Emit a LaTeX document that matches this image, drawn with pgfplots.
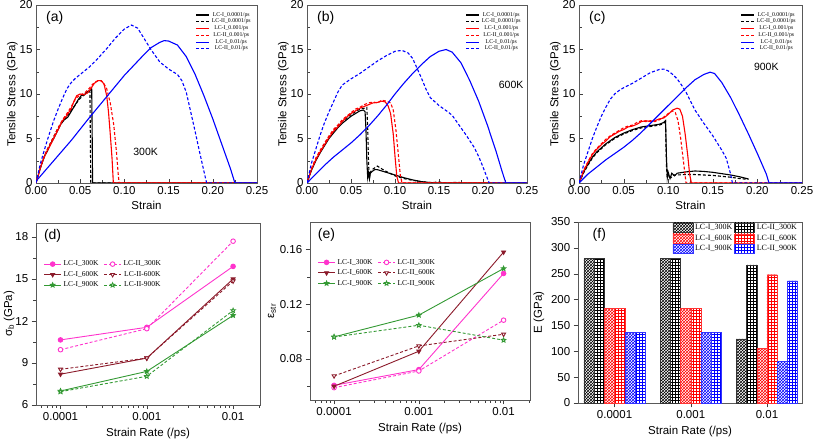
\documentclass[border=0pt]{standalone}
\usepackage{pgfplots}
\pgfplotsset{compat=1.18}
\usepackage{fontspec}
\setmainfont{Liberation Sans}
\newfontfamily\tms{Liberation Serif}
\usetikzlibrary{patterns}

\definecolor{mag}{RGB}{255,51,204}
\definecolor{mar}{RGB}{139,26,42}
\definecolor{grn}{RGB}{51,153,51}

% five-pointed star, filled with the fill colour
\pgfdeclareplotmark{pstar}{%
  \pgfpathmoveto{\pgfpointpolar{90}{\pgfplotmarksize}}%
  \pgfpathlineto{\pgfpointpolar{126}{0.45\pgfplotmarksize}}%
  \pgfpathlineto{\pgfpointpolar{162}{\pgfplotmarksize}}%
  \pgfpathlineto{\pgfpointpolar{198}{0.45\pgfplotmarksize}}%
  \pgfpathlineto{\pgfpointpolar{234}{\pgfplotmarksize}}%
  \pgfpathlineto{\pgfpointpolar{270}{0.45\pgfplotmarksize}}%
  \pgfpathlineto{\pgfpointpolar{306}{\pgfplotmarksize}}%
  \pgfpathlineto{\pgfpointpolar{342}{0.45\pgfplotmarksize}}%
  \pgfpathlineto{\pgfpointpolar{18}{\pgfplotmarksize}}%
  \pgfpathlineto{\pgfpointpolar{54}{0.45\pgfplotmarksize}}%
  \pgfpathclose
  \pgfusepathqfillstroke}

\tikzset{plab/.style={anchor=north west, font=\fontsize{14}{16}\selectfont},
  dsh/.style={dash pattern=on 3pt off 2pt}}

\pgfplotsset{
  base/.style={scale only axis, anchor=south west,
    axis line style={black!65}, tick style={black!75},
    tick label style={font=\fontsize{11.5}{13}\selectfont},
    label style={font=\fontsize{11.5}{13}\selectfont},
    /pgf/number format/assume math mode=true},
  ss/.style={base, height=178pt,
    xmin=0, xmax=0.25, ymin=0, ymax=20,
    xtick={0,0.05,0.1,0.15,0.2,0.25}, ytick={0,5,10,15,20},
    minor tick num=1, tick align=inside, tickpos=left,
    xticklabel style={/pgf/number format/.cd, fixed, fixed zerofill, precision=2},
    xlabel={Strain}, ylabel={Tensile Stress (GPa)}, ylabel shift=-5pt,
    no markers, every axis plot/.append style={line width=1.1pt},
    legend style={at={(0.995,0.975)}, anchor=north east, draw=none, fill=none,
      font=\tms\fontsize{5.8}{6.5}\selectfont, nodes={inner ysep=0.7pt}},
    legend image code/.code={\draw[##1] (0pt,0pt) -- (13pt,0pt);},
    legend entries={LC-I\_0.0001/ps, LC-II\_0.0001/ps, LC-I\_0.001/ps,
      LC-II\_0.001/ps, LC-I\_0.01/ps, LC-II\_0.01/ps}},
  ratax/.style={base, xmin=5.2e-5, xmax=2.05e-2,
    xtick={1e-4,1e-3,1e-2}, xticklabels={0.0001,0.001,0.01},
    minor xtick={6e-5,7e-5,8e-5,9e-5,2e-4,3e-4,4e-4,5e-4,6e-4,7e-4,8e-4,9e-4,
      2e-3,3e-3,4e-3,5e-3,6e-3,7e-3,8e-3,9e-3,2e-2},
    tick align=outside, tickpos=left, xlabel={Strain Rate (/ps)},
    legend columns=2,
    legend style={at={(0.02,0.815)}, anchor=north west, draw=none, fill=none,
      font=\tms\fontsize{7.5}{9}\selectfont,
      /tikz/every even column/.append style={column sep=3pt}},
    every axis plot/.append style={line width=0.9pt, mark size=2.3pt}},
}

\begin{document}
\begin{tikzpicture}
\path[use as bounding box] (0pt,0pt) rectangle (813pt,439pt);

% ---------------- (a) 300K
\begin{axis}[ss, at={(36pt,256pt)}, width=221pt]
\addplot[black] coordinates {(0,0)(0.003,1.0)(0.006,2.0)(0.01,3.1)(0.013,3.6)(0.016,4.3)(0.02,5.0)(0.024,5.8)(0.028,6.6)(0.032,7.1)(0.036,7.4)(0.039,7.9)(0.042,8.4)(0.045,8.9)(0.048,9.4)(0.051,9.8)(0.054,9.9)(0.057,10.1)(0.06,10.3)(0.063,10.6)(0.0635,6)(0.064,0)(0.25,0)};
\addplot[black,dsh] coordinates {(0,0)(0.004,1.5)(0.008,2.6)(0.012,3.6)(0.016,4.4)(0.02,5.2)(0.025,6.2)(0.03,6.9)(0.035,7.5)(0.04,8.2)(0.044,8.7)(0.048,9.3)(0.052,9.7)(0.056,10.0)(0.06,10.4)(0.061,10.5)(0.0615,5)(0.062,0)(0.25,0)};
\addplot[red] coordinates {(0,0)(0.004,1.4)(0.008,2.6)(0.012,3.5)(0.016,4.2)(0.02,5.0)(0.025,6.0)(0.03,7.0)(0.035,7.6)(0.04,8.4)(0.043,9.2)(0.046,9.8)(0.05,10.0)(0.054,9.9)(0.058,10.1)(0.062,10.6)(0.066,11.2)(0.07,11.5)(0.074,11.5)(0.077,11.1)(0.08,9.8)(0.082,8.0)(0.084,5.5)(0.086,2.8)(0.0875,0)(0.25,0)};
\addplot[red,dsh] coordinates {(0,0)(0.004,1.5)(0.008,2.7)(0.012,3.6)(0.016,4.4)(0.02,5.2)(0.025,6.2)(0.03,7.1)(0.035,7.8)(0.04,8.6)(0.045,9.5)(0.05,9.9)(0.055,10.1)(0.06,10.6)(0.064,11.1)(0.068,11.4)(0.072,11.55)(0.076,11.3)(0.08,10.6)(0.084,9.0)(0.088,6.5)(0.091,3.5)(0.093,1.0)(0.094,0)(0.25,0)};
\addplot[blue] coordinates {(0,0.2)(0.02,2.5)(0.04,4.8)(0.06,7.3)(0.08,9.7)(0.1,12.1)(0.12,14.2)(0.13,15.2)(0.14,15.8)(0.145,16.0)(0.15,15.95)(0.16,15.5)(0.17,14.2)(0.18,12.2)(0.19,9.8)(0.2,7.2)(0.21,4.4)(0.22,1.6)(0.225,0)(0.25,0)};
\addplot[blue,dsh] coordinates {(0,0)(0.005,2.2)(0.01,3.9)(0.015,5.5)(0.02,7.0)(0.025,8.3)(0.03,9.5)(0.035,10.6)(0.04,11.3)(0.045,11.8)(0.05,12.2)(0.06,13.0)(0.07,14.0)(0.08,15.1)(0.09,16.3)(0.1,17.3)(0.108,17.75)(0.115,17.4)(0.12,16.6)(0.13,15.0)(0.14,13.6)(0.15,12.8)(0.16,12.2)(0.165,11.5)(0.17,10.2)(0.175,8.0)(0.18,5.8)(0.185,3.5)(0.19,1.3)(0.193,0)(0.25,0)};
\node[plab] at (rel axis cs:0.03,0.985) {(a)};
\node[font=\fontsize{10.5}{12}\selectfont] at (axis cs:0.124,3.5) {300K};
\end{axis}

% ---------------- (b) 600K
\begin{axis}[ss, at={(307pt,256pt)}, width=220pt]
\addplot[black] coordinates {(0,0)(0.005,1.4)(0.01,2.5)(0.015,3.4)(0.02,4.2)(0.025,5.0)(0.03,5.6)(0.035,6.2)(0.04,6.7)(0.045,7.1)(0.05,7.5)(0.055,7.8)(0.06,8.1)(0.064,8.2)(0.066,8.0)(0.067,6)(0.068,2.5)(0.069,0.6)(0.07,1.2)(0.071,0.5)(0.072,1.1)(0.074,1.3)(0.077,1.5)(0.08,1.5)(0.085,1.35)(0.09,1.2)(0.1,0.9)(0.11,0.6)(0.12,0.35)(0.13,0.15)(0.14,0.05)(0.15,0)(0.25,0)};
\addplot[black,dsh] coordinates {(0,0)(0.005,1.5)(0.01,2.6)(0.015,3.5)(0.02,4.4)(0.025,5.1)(0.03,5.8)(0.035,6.4)(0.04,6.9)(0.045,7.3)(0.05,7.7)(0.055,8.0)(0.06,8.3)(0.065,8.4)(0.068,8.5)(0.069,6)(0.07,2)(0.071,0.6)(0.072,1.2)(0.074,1.5)(0.077,1.7)(0.08,1.9)(0.083,1.7)(0.09,1.3)(0.1,0.8)(0.11,0.5)(0.12,0.3)(0.13,0.15)(0.14,0.05)(0.15,0.1)(0.16,0)(0.17,0.08)(0.18,0)(0.25,0)};
\addplot[red] coordinates {(0,0)(0.005,1.5)(0.01,2.6)(0.015,3.5)(0.02,4.3)(0.025,5.1)(0.03,5.8)(0.035,6.3)(0.04,6.9)(0.045,7.4)(0.05,7.8)(0.055,8.1)(0.06,8.4)(0.065,8.6)(0.07,8.8)(0.075,9.0)(0.08,9.05)(0.085,9.2)(0.089,9.1)(0.092,8.7)(0.095,7.8)(0.098,5.5)(0.1,3.0)(0.102,0.8)(0.104,0)(0.25,0)};
\addplot[red,dsh] coordinates {(0,0)(0.005,1.6)(0.01,2.8)(0.015,3.7)(0.02,4.5)(0.025,5.3)(0.03,6.0)(0.035,6.5)(0.04,7.1)(0.045,7.5)(0.05,7.9)(0.055,8.3)(0.06,8.5)(0.065,8.8)(0.07,9.0)(0.075,9.1)(0.08,9.0)(0.085,9.3)(0.09,9.2)(0.095,9.0)(0.098,8.2)(0.101,6.0)(0.104,3.0)(0.106,0.9)(0.108,0)(0.25,0)};
\addplot[blue] coordinates {(0,0)(0.01,1.0)(0.02,2.0)(0.03,2.9)(0.04,3.7)(0.05,4.5)(0.06,5.4)(0.07,6.4)(0.08,7.5)(0.09,8.7)(0.1,10.0)(0.11,11.2)(0.12,12.3)(0.13,13.3)(0.14,14.2)(0.15,14.8)(0.158,15.0)(0.165,14.7)(0.175,13.5)(0.185,11.5)(0.195,9.2)(0.205,6.5)(0.215,3.5)(0.222,1.2)(0.226,0)(0.25,0)};
\addplot[blue,dsh] coordinates {(0,0)(0.005,2.2)(0.01,3.8)(0.015,5.4)(0.02,6.8)(0.025,8.0)(0.03,9.1)(0.035,10.2)(0.04,11.0)(0.05,11.7)(0.06,12.3)(0.07,13.0)(0.08,13.7)(0.09,14.3)(0.1,14.8)(0.108,14.9)(0.115,14.6)(0.12,14.0)(0.125,12.9)(0.13,11.8)(0.135,10.6)(0.14,9.6)(0.15,8.7)(0.16,8.0)(0.165,7.6)(0.17,6.9)(0.18,5.5)(0.19,4.0)(0.195,3.0)(0.2,1.8)(0.205,0.5)(0.207,0)(0.25,0)};
\node[plab] at (rel axis cs:0.03,0.985) {(b)};
\node[font=\fontsize{10.5}{12}\selectfont] at (axis cs:0.232,11.0) {600K};
\end{axis}

% ---------------- (c) 900K
\begin{axis}[ss, at={(579pt,256pt)}, width=223pt]
\addplot[black] coordinates {(0,0)(0.005,1.2)(0.01,2.1)(0.015,2.9)(0.02,3.5)(0.03,4.4)(0.04,5.1)(0.05,5.6)(0.06,6.0)(0.07,6.3)(0.08,6.45)(0.09,6.6)(0.095,6.8)(0.097,7.0)(0.098,3)(0.099,0.6)(0.1,1.2)(0.102,0.5)(0.104,1.1)(0.107,0.8)(0.11,1.1)(0.12,1.25)(0.13,1.35)(0.14,1.3)(0.15,1.2)(0.16,1.05)(0.17,0.9)(0.18,0.7)(0.19,0.45)};
\addplot[black,dsh] coordinates {(0,0)(0.005,1.1)(0.01,2.0)(0.015,2.8)(0.02,3.4)(0.03,4.3)(0.04,5.0)(0.05,5.5)(0.06,5.9)(0.07,6.2)(0.08,6.35)(0.09,6.5)(0.095,6.7)(0.097,6.9)(0.098,2)(0.099,0.5)(0.1,0.9)(0.103,0.6)(0.106,0.9)(0.11,0.9)(0.12,0.95)(0.13,0.95)(0.14,0.9)(0.15,0.85)(0.16,0.75)(0.17,0.65)(0.18,0.5)(0.19,0.4)};
\addplot[red] coordinates {(0,0)(0.005,1.3)(0.01,2.3)(0.015,3.2)(0.02,3.8)(0.025,4.3)(0.03,4.7)(0.035,5.2)(0.04,5.5)(0.045,5.8)(0.05,6.0)(0.055,6.3)(0.06,6.4)(0.065,6.6)(0.07,6.9)(0.075,7.0)(0.08,6.9)(0.085,7.0)(0.09,7.2)(0.095,7.3)(0.1,7.7)(0.105,8.2)(0.11,8.4)(0.113,8.3)(0.116,7.5)(0.119,5.5)(0.122,3)(0.124,1)(0.126,0)(0.25,0)};
\addplot[red,dsh] coordinates {(0,0)(0.005,1.4)(0.01,2.4)(0.015,3.3)(0.02,3.9)(0.025,4.4)(0.03,4.9)(0.035,5.3)(0.04,5.6)(0.045,5.9)(0.05,6.2)(0.055,6.4)(0.06,6.5)(0.065,6.8)(0.07,7.0)(0.075,6.9)(0.08,7.0)(0.085,6.9)(0.09,7.1)(0.095,7.4)(0.1,7.8)(0.105,8.1)(0.108,7.9)(0.111,7.0)(0.114,5.0)(0.117,2.5)(0.119,0.8)(0.12,0)(0.25,0)};
\addplot[blue] coordinates {(0,0)(0.01,1.0)(0.02,1.8)(0.03,2.6)(0.04,3.3)(0.05,4.0)(0.06,4.8)(0.07,5.7)(0.08,6.7)(0.09,7.7)(0.1,8.7)(0.11,9.7)(0.12,10.7)(0.13,11.6)(0.14,12.2)(0.147,12.45)(0.152,12.3)(0.16,11.3)(0.17,9.6)(0.18,7.6)(0.19,5.5)(0.2,3.3)(0.21,1.0)(0.213,0)(0.25,0)};
\addplot[blue,dsh] coordinates {(0,0)(0.005,2.0)(0.01,3.5)(0.015,5.0)(0.02,6.3)(0.025,7.5)(0.03,8.5)(0.035,9.4)(0.04,10.0)(0.045,10.4)(0.05,10.7)(0.06,11.2)(0.07,11.8)(0.08,12.4)(0.09,12.75)(0.095,12.8)(0.1,12.6)(0.105,12.2)(0.11,11.7)(0.115,11.0)(0.12,10.2)(0.125,9.2)(0.13,8.2)(0.14,6.7)(0.15,5.3)(0.16,3.7)(0.165,2.8)(0.17,1.0)(0.172,0)(0.25,0)};
\node[plab] at (rel axis cs:0.03,0.985) {(c)};
\node[font=\fontsize{10.5}{12}\selectfont] at (axis cs:0.21,13.05) {900K};
\end{axis}

% ---------------- (d) breaking stress
\begin{axis}[xmode=log, ratax, at={(36pt,34pt)}, width=224pt, height=182pt,
  ymin=6, ymax=19, ytick={6,9,12,15,18}, minor ytick={7.5,10.5,13.5,16.5},
  ylabel={σ\textsubscript{b} (GPa)}, ylabel shift=-6pt]
\addplot[mag, mark=*, mark options={solid}] coordinates {(1e-4,10.65)(1e-3,11.55)(1e-2,15.9)};
\addlegendentry{LC-I\_300K}
\addplot[mag, dsh, mark=*, mark options={solid, fill=white}] coordinates {(1e-4,9.95)(1e-3,11.45)(1e-2,17.7)};
\addlegendentry{LC-II\_300K}
\addplot[mar, mark=triangle*, mark options={solid, rotate=180}] coordinates {(1e-4,8.2)(1e-3,9.35)(1e-2,15.0)};
\addlegendentry{LC-I\_600K}
\addplot[mar, dsh, mark=triangle*, mark options={solid, rotate=180, fill=white}] coordinates {(1e-4,8.55)(1e-3,9.35)(1e-2,14.85)};
\addlegendentry{LC-II-600K}
\addplot[grn, mark=pstar, mark options={solid}] coordinates {(1e-4,7.0)(1e-3,8.4)(1e-2,12.4)};
\addlegendentry{LC-I\_900K}
\addplot[grn, dsh, mark=pstar, mark options={solid, fill=white}] coordinates {(1e-4,6.95)(1e-3,8.05)(1e-2,12.75)};
\addlegendentry{LC-II-900K}
\node[plab] at (rel axis cs:0.02,0.985) {(d)};
\end{axis}

% ---------------- (e) failure strain
\begin{axis}[xmode=log, ratax, at={(310pt,39pt)}, width=220pt, height=178pt,
  ymin=0.05, ymax=0.18, ytick={0.08,0.12,0.16}, minor ytick={0.06,0.10,0.14},
  yticklabel style={/pgf/number format/.cd, fixed, fixed zerofill, precision=2},
  ylabel={ε\textsubscript{str}}, ylabel shift=-3pt]
\addplot[mag, mark=*, mark options={solid}] coordinates {(1e-4,0.0607)(1e-3,0.0722)(1e-2,0.1424)};
\addlegendentry{LC-I\_300K}
\addplot[mag, dsh, mark=*, mark options={solid, fill=white}] coordinates {(1e-4,0.059)(1e-3,0.0712)(1e-2,0.1083)};
\addlegendentry{LC-II\_300K}
\addplot[mar, mark=triangle*, mark options={solid, rotate=180}] coordinates {(1e-4,0.060)(1e-3,0.0856)(1e-2,0.158)};
\addlegendentry{LC-I\_600K}
\addplot[mar, dsh, mark=triangle*, mark options={solid, rotate=180, fill=white}] coordinates {(1e-4,0.0676)(1e-3,0.0895)(1e-2,0.098)};
\addlegendentry{LC-II\_600K}
\addplot[grn, mark=pstar, mark options={solid}] coordinates {(1e-4,0.0961)(1e-3,0.112)(1e-2,0.146)};
\addlegendentry{LC-I\_900K}
\addplot[grn, dsh, mark=pstar, mark options={solid, fill=white}] coordinates {(1e-4,0.096)(1e-3,0.1046)(1e-2,0.0937)};
\addlegendentry{LC-II\_900K}
\node[plab] at (rel axis cs:0.02,0.985) {(e)};
\end{axis}

% ---------------- (f) Young's modulus
\begin{axis}[base, at={(578pt,36pt)}, width=224pt, height=181pt,
  ybar=0pt, bar width=10.2pt,
  xmin=-0.48, xmax=2.46, ymin=0, ymax=350,
  xtick={0,1,2}, xticklabels={0.0001,0.001,0.01},
  ytick={0,50,100,150,200,250,300,350},
  tick align=outside, tickpos=left,
  xlabel={Strain Rate (/ps)}, ylabel={E (GPa)},
  legend columns=2,
  legend style={at={(1,1.012)}, anchor=north east, draw=none, fill=none,
    font=\tms\fontsize{8}{9.5}\selectfont},
  legend image code/.code={\draw[#1] (0pt,-4.5pt) rectangle (20pt,4.5pt);}]
\addplot[draw=black!80, pattern=crosshatch, pattern color=black] coordinates {(0,280)(1,280)(2,124)};
\addlegendentry{LC-I\_300K}
\addplot[draw=black!80, pattern=grid, pattern color=black] coordinates {(0,280)(1,280)(2,267)};
\addlegendentry{LC-II\_300K}
\addplot[draw=red!80, pattern=crosshatch, pattern color=red] coordinates {(0,183)(1,183)(2,106)};
\addlegendentry{LC-I\_600K}
\addplot[draw=red!80, pattern=grid, pattern color=red] coordinates {(0,183)(1,183)(2,248)};
\addlegendentry{LC-II\_600K}
\addplot[draw=blue!80, pattern=crosshatch, pattern color=blue] coordinates {(0,136)(1,136)(2,81)};
\addlegendentry{LC-I\_900K}
\addplot[draw=blue!80, pattern=grid, pattern color=blue] coordinates {(0,136)(1,136)(2,236)};
\addlegendentry{LC-II\_900K}
\node[plab] at (rel axis cs:0.05,0.985) {(f)};
\end{axis}
\end{tikzpicture}
\end{document}
